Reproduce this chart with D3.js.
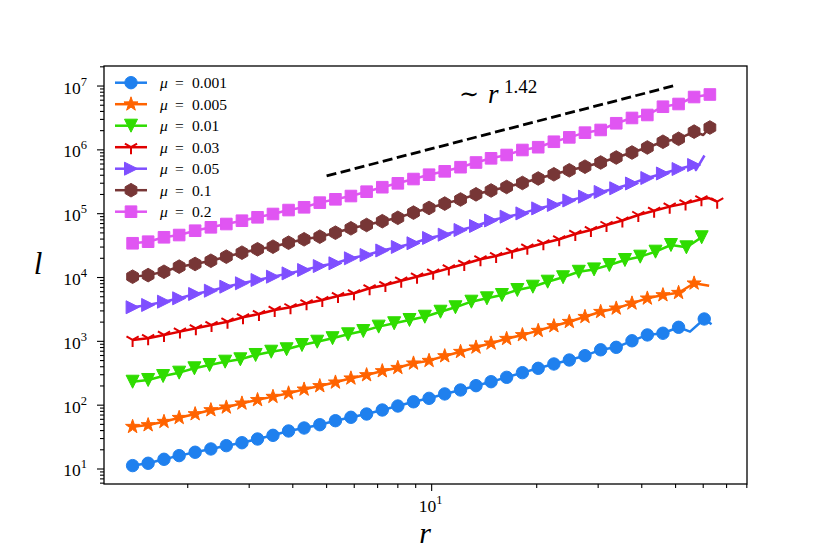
<!DOCTYPE html>
<html>
<head>
<meta charset="utf-8">
<script src="https://cdn.jsdelivr.net/npm/d3@7"></script>
<style>
  body { margin: 0; background: #fff; }
  svg text { font-family: "Liberation Serif", "DejaVu Serif", serif; fill: #000; }
</style>
</head>
<body>
<div id="chart"></div>
<script>
  var w = 830,
      h = 554;

  // r values of the markers (log binned, slightly different per run)
  var rA = [1.39, 1.54, 1.71, 1.89, 2.10, 2.33, 2.58, 2.86, 3.17, 3.51, 3.89, 4.31, 4.78, 5.30, 5.87, 6.51, 7.22, 8.00, 8.87,
            9.83, 10.9, 12.1, 13.4, 14.8, 16.4, 18.2, 20.2, 22.4, 24.8, 27.5, 30.5, 33.8, 37.5, 41.5, 46.0, 51.0, 56.5, 62.7];
  var rRed = [1.39, 1.54, 1.71, 1.90, 2.11, 2.34, 2.60, 2.88, 3.20, 3.55, 3.94, 4.38, 4.86, 5.39, 5.99, 6.64, 7.37, 8.18, 9.08,
              10.1, 11.2, 12.4, 13.8, 15.3, 17.0, 18.8, 20.9, 23.2, 25.8, 28.6, 31.7, 35.2, 39.1, 43.4, 48.1, 53.4, 59.3, 65.8];
  var rGreen = [1.39, 1.54, 1.70, 1.89, 2.09, 2.31, 2.56, 2.83, 3.13, 3.47, 3.84, 4.25, 4.70, 5.20, 5.76, 6.37, 7.05, 7.81, 8.64,
                9.56, 10.6, 11.7, 13.0, 14.4, 15.9, 17.6, 19.5, 21.5, 23.8, 26.4, 29.2, 32.3, 35.8, 39.6, 43.8, 48.5, 53.7, 59.4];

  var mu = ["0.001", "0.005", "0.01", "0.03", "0.05", "0.1", "0.2"];

  // l values, one per marker
  var l0001 = [11.3, 12.3, 14.2, 16.2, 18.3, 20.6, 23.2, 25.8, 29.5, 33.7, 39.4, 43.9, 49.4, 57.1, 64.6, 72.7, 84.0, 97.0, 113,
               128, 150, 173, 202, 233, 273, 323, 378, 442, 510, 596, 737, 806, 1020, 1260, 1340, 1660];
  var l0005 = [46.0, 48.9, 55.1, 63.6, 72.7, 84.0, 92.6, 107, 121, 136, 154, 177, 200, 228, 264, 297, 343, 386, 453,
               498, 589, 688, 806, 932, 1100, 1260, 1470, 1740, 2030, 2430, 2910, 3290, 3950, 4720, 5320, 5780, 8120];
  var l001 = [233, 248, 286, 323, 378, 426, 480, 523, 611, 688, 751, 876, 987, 1120, 1290, 1450, 1700, 1920, 2160,
              2430, 2910, 3420, 4180, 4720, 5320, 6370, 7180, 8600, 10100, 12300, 13400, 15700, 18800, 21200, 25400, 32300, 29700, 42700];
  var l003 = [1050, 1120, 1260, 1420, 1600, 1800, 2030, 2380, 2680, 3100, 3420, 3950, 4440, 5130, 5660, 6780, 7630, 8910, 10300,
              11900, 13900, 16300, 19300, 21700, 25400, 29300, 34400, 39700, 48100, 55500, 66500, 78200, 95400, 111000, 129000, 145000, 168000, 154000];
  var l005 = [3420, 3710, 4180, 4720, 5520, 6210, 7180, 8120, 9140, 10300, 11600, 13100, 15100, 16700, 20000, 22500, 26500, 30100, 34400,
              41600, 46900, 55500, 64100, 78200, 89700, 101000, 121000, 137000, 161000, 185000, 219000, 250000, 297000, 362000, 426000, 501000, 579000];
  var l01 = [10300, 10900, 12300, 14800, 16300, 18300, 21200, 24500, 27700, 30400, 35100, 39700, 43600, 50400, 59000, 66500, 76300, 86200, 104000,
             123000, 144000, 167000, 201000, 231000, 262000, 303000, 356000, 414000, 478000, 545000, 634000, 759000, 909000, 1090000, 1340000, 1490000, 1930000, 2240000];
  var l02 = [34400, 36400, 42700, 46300, 54100, 61200, 68900, 77600, 87800, 98900, 114000, 126000, 149000, 168000, 189000, 221000, 260000, 299000, 349000,
             408000, 461000, 535000, 634000, 737000, 831000, 995000, 1100000, 1340000, 1570000, 1860000, 2050000, 2610000, 3160000, 3520000, 4740000, 5230000, 6730000, 7370000];

  // extra points at the end of each curve: [r, l, has marker]
  var extra0001 = [[55.0, 1420, 0], [60.4, 2240, 1], [63.4, 1850, 0]];
  var extra0005 = [[62.4, 7440, 0]];
  var extra001 = [];
  var extra003 = [[62.3, 176000, 0]];
  var extra005 = [[57.2, 484000, 0], [60.5, 816000, 0]];
  var extra01 = [[60.0, 1710000, 0]];
  var extra02 = [];

  // guide line ~ r^1.42
  var fitExp = 1.42,
      fitAmp = 3.97e4,
      fitRange = [5, 50];

  var xMajor = [10];
  var yMajor = [1, 2, 3, 4, 5, 6, 7];

  var series = [
    {mu: mu[0], r: rA, l: l0001, extra: extra0001, color: "#1f80ee", marker: "circle"},
    {mu: mu[1], r: rA, l: l0005, extra: extra0005, color: "#ff6300", marker: "star"},
    {mu: mu[2], r: rGreen, l: l001, extra: extra001, color: "#2fdc00", marker: "tridown"},
    {mu: mu[3], r: rRed, l: l003, extra: extra003, color: "#e00000", marker: "tri1"},
    {mu: mu[4], r: rA, l: l005, extra: extra005, color: "#7f4fff", marker: "triright"},
    {mu: mu[5], r: rA, l: l01, extra: extra01, color: "#773636", marker: "hexagon"},
    {mu: mu[6], r: rA, l: l02, extra: extra02, color: "#e055f2", marker: "square"}
  ];

  var pl = 104, pr = 747, pt = 66, pb = 484;

  var x = d3.scaleLog().domain([1.151, 80.1]).range([pl, pr]);
  var y = d3.scaleLog().domain([5.82, 2.06e7]).range([pb, pt]);

  var svg = d3.select("#chart").append("svg")
      .attr("width", w)
      .attr("height", h);

  svg.append("defs").append("clipPath").attr("id", "plotclip")
    .append("rect")
      .attr("x", pl).attr("y", pt)
      .attr("width", pr - pl).attr("height", pb - pt);

  function poly(pts) {
    return "M" + pts.map(function(p){ return p[0].toFixed(2) + "," + p[1].toFixed(2); }).join("L") + "Z";
  }

  var markers = {
    circle: d3.symbol().type(d3.symbolCircle).size(Math.PI * 6.2 * 6.2)(),
    star: poly(d3.range(10).map(function(i){
      var a = -Math.PI / 2 + i * Math.PI / 5, rr = i % 2 ? 2.9 : 7.4;
      return [rr * Math.cos(a), rr * Math.sin(a)];
    })),
    tridown: poly([[0, 6.5], [-6.5, -6.5], [6.5, -6.5]]),
    triright: poly([[6.5, 0], [-6.5, -6.5], [-6.5, 6.5]]),
    hexagon: poly(d3.range(6).map(function(i){
      var a = -Math.PI / 2 + i * Math.PI / 3;
      return [6.8 * Math.cos(a), 6.8 * Math.sin(a)];
    })),
    square: poly([[-5.8, -5.8], [5.8, -5.8], [5.8, 5.8], [-5.8, 5.8]]),
    tri1: "M0,0L0,7M0,0L-6.1,-3.5M0,0L6.1,-3.5"
  };

  function drawMarker(sel, s) {
    sel.attr("d", markers[s.marker]);
    if (s.marker == "tri1") {
      sel.attr("fill", "none").attr("stroke", s.color).attr("stroke-width", 2);
    } else {
      sel.attr("fill", s.color).attr("stroke", s.color).attr("stroke-width", 1);
    }
  }

  // ticks
  var yMinor = [];
  for (var d = 0; d <= 7; d++) {
    for (var m = 2; m <= 9; m++) {
      var v = m * Math.pow(10, d);
      if (v > 5.82 && v < 2.06e7) yMinor.push(v);
    }
  }
  var xMinor = [2, 3, 4, 5, 6, 7, 8, 9, 20, 30, 40, 50, 60, 70, 80].filter(function(v){ return v > 1.151 && v < 80.2; });

  var axes = svg.append("g").attr("stroke", "#000").attr("stroke-width", 1.1);
  axes.selectAll(".ymin").data(yMinor).enter().append("line")
    .attr("x1", pl - 4).attr("x2", pl)
    .attr("y1", function(d){ return y(d); }).attr("y2", function(d){ return y(d); });
  axes.selectAll(".ymaj").data(yMajor).enter().append("line")
    .attr("x1", pl - 7).attr("x2", pl)
    .attr("y1", function(d){ return y(Math.pow(10, d)); }).attr("y2", function(d){ return y(Math.pow(10, d)); });
  axes.selectAll(".xmin").data(xMinor).enter().append("line")
    .attr("x1", function(d){ return x(d); }).attr("x2", function(d){ return x(d); })
    .attr("y1", pb).attr("y2", pb + 4);
  axes.selectAll(".xmaj").data(xMajor).enter().append("line")
    .attr("x1", function(d){ return x(d); }).attr("x2", function(d){ return x(d); })
    .attr("y1", pb).attr("y2", pb + 7);

  var ylab = svg.selectAll(".ylab").data(yMajor).enter().append("text")
    .attr("x", 87)
    .attr("y", function(d){ return y(Math.pow(10, d)) + 7.5; })
    .attr("text-anchor", "end")
    .style("font-size", "17.5px");
  ylab.append("tspan").text("10");
  ylab.append("tspan").attr("dy", -8).style("font-size", "12.5px").text(function(d){ return d; });

  var xlab = svg.selectAll(".xlab").data(xMajor).enter().append("text")
    .attr("x", function(d){ return x(d) - 1; })
    .attr("y", 512)
    .attr("text-anchor", "middle")
    .style("font-size", "17.5px");
  xlab.append("tspan").text("10");
  xlab.append("tspan").attr("dy", -8).style("font-size", "12.5px").text(function(d){ return Math.round(Math.log10(d)); });

  svg.append("text").attr("x", 425).attr("y", 543).attr("text-anchor", "middle")
    .style("font-size", "30px").style("font-style", "italic").text("r");
  svg.append("text").attr("x", 38).attr("y", 274).attr("text-anchor", "middle")
    .style("font-size", "31px").style("font-style", "italic").text("l");

  // curves
  var plot = svg.append("g").attr("clip-path", "url(#plotclip)");
  var line = d3.line()
      .x(function(d){ return x(d.r); })
      .y(function(d){ return y(d.l); });

  series.forEach(function(s) {
    var pts = s.l.map(function(v, i){ return {r: s.r[i], l: v, mark: 1}; })
      .concat(s.extra.map(function(e){ return {r: e[0], l: e[1], mark: e[2]}; }));
    pts.sort(function(a, b){ return a.r - b.r; });
    var g = plot.append("g");
    g.append("path").datum(pts)
      .attr("d", line)
      .attr("fill", "none")
      .attr("stroke", s.color)
      .attr("stroke-width", 2.5)
      .attr("stroke-linejoin", "round");
    g.selectAll("path.mk").data(pts.filter(function(p){ return p.mark; }))
      .enter().append("path")
      .attr("class", "mk")
      .attr("transform", function(d){ return "translate(" + x(d.r) + "," + y(d.l) + ")"; })
      .call(drawMarker, s);
  });

  // guide line
  plot.append("path").datum(fitRange.map(function(r){ return {r: r, l: fitAmp * Math.pow(r, fitExp)}; }))
    .attr("d", line)
    .attr("fill", "none")
    .attr("stroke", "#000")
    .attr("stroke-width", 2.8)
    .attr("stroke-dasharray", "10,4.5");

  var ann = svg.append("text").attr("y", 103).style("font-size", "27px");
  ann.append("tspan").attr("x", 459).attr("dy", -1).style("font-family", "DejaVu Serif").style("font-size", "24px").text("\u223C");
  ann.append("tspan").attr("x", 488).attr("dy", 1).style("font-style", "italic").text("r");
  ann.append("tspan").attr("x", 504).attr("dy", -10).style("font-size", "19px").text(fitExp.toFixed(2));

  // frame
  svg.append("rect")
    .attr("x", pl).attr("y", pt)
    .attr("width", pr - pl).attr("height", pb - pt)
    .attr("fill", "none")
    .attr("stroke", "#000")
    .attr("stroke-width", 1.3);

  // legend
  var leg = svg.append("g").selectAll("g").data(series).enter().append("g")
    .attr("transform", function(d, i){ return "translate(0," + (82.7 + i * 21.5) + ")"; });
  leg.append("line")
    .attr("x1", 115).attr("x2", 147)
    .attr("stroke", function(d){ return d.color; })
    .attr("stroke-width", 2.5);
  leg.each(function(s) {
    d3.select(this).append("path")
      .attr("transform", "translate(131,0)")
      .call(drawMarker, s);
  });
  var lt = leg.append("text").attr("y", 5.5).style("font-size", "15.5px");
  lt.append("tspan").attr("x", 160).style("font-style", "italic").text("\u03BC");
  lt.append("tspan").attr("x", 175).text("=");
  lt.append("tspan").attr("x", 192).text(function(d){ return d.mu; });
</script>
</body>
</html>
